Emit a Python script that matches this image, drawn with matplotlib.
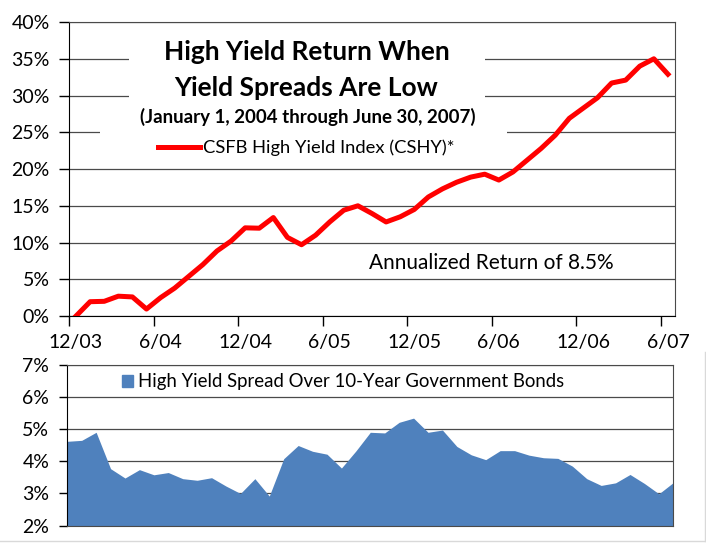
import numpy as np
import matplotlib
matplotlib.use("Agg")
import matplotlib.pyplot as plt
from matplotlib.patches import Rectangle, Patch
from matplotlib.lines import Line2D

plt.rcParams['font.family'] = ['Lato', 'DejaVu Sans']

# monthly data, 12/03 .. 6/07 (43 months)
tick_labels = ['12/03', '6/04', '12/04', '6/05', '12/05', '6/06', '12/06', '6/07']
cshy_return = [0.0, 1.95, 2.0, 2.7, 2.6, 0.95, 2.5, 3.8, 5.4, 7.0, 8.85, 10.2,
               12.0, 11.95, 13.4, 10.7, 9.7, 11.0, 12.8, 14.4, 15.0, 13.95, 12.8,
               13.5, 14.5, 16.2, 17.3, 18.2, 18.9, 19.3, 18.5, 19.6, 21.2, 22.8,
               24.6, 26.9, 28.3, 29.7, 31.7, 32.1, 34.0, 35.0, 32.9]
hy_spread = [4.62, 4.65, 4.90, 3.77, 3.48, 3.74, 3.58, 3.65, 3.46, 3.41, 3.49,
             3.23, 3.00, 3.46, 2.92, 4.08, 4.49, 4.31, 4.22, 3.79, 4.32, 4.90,
             4.88, 5.21, 5.34, 4.90, 4.97, 4.46, 4.20, 4.05, 4.33, 4.33, 4.19,
             4.11, 4.09, 3.85, 3.46, 3.25, 3.33, 3.59, 3.31, 2.99, 3.34]

n = len(cshy_return)
grid_col = '#4a4a4a'
tick_fs = 14

fig = plt.figure(figsize=(7.06, 5.43), dpi=100)

# ---- upper chart: cumulative return (categories drawn in the middle of each month)
ax1 = fig.add_axes([0.0977, 0.418, 0.8584, 0.5414])
x_line = np.arange(n) + 0.5
ax1.plot(x_line, cshy_return, color='#ff0000', lw=3.6, zorder=3,
         solid_joinstyle='round', label='CSFB High Yield Index (CSHY)*')
ax1.set_xlim(0, n)
ax1.set_ylim(0, 40)
ax1.set_yticks(np.arange(0, 41, 5))
ax1.set_yticklabels([f'{v}%' for v in range(0, 41, 5)])
# tick marks on month boundaries, labels centred on the month
ax1.set_xticks(np.arange(0, n, 6))
ax1.set_xticklabels([])
ax1.set_xticks(np.arange(0, n, 6) + 0.5, minor=True)
ax1.set_xticklabels(tick_labels, minor=True)
ax1.tick_params(axis='x', which='minor', length=0, labelsize=tick_fs, pad=13)
ax1.set_axisbelow(True)
ax1.yaxis.grid(True, color=grid_col, lw=0.9)
for s in ax1.spines.values():
    s.set_color(grid_col)
ax1.spines['left'].set_color('black')
ax1.spines['bottom'].set_color('black')
ax1.tick_params(which='major', direction='out', length=7, width=1,
                labelsize=tick_fs, pad=7)

# white boxes behind title / legend (hide gridlines)
ax1.add_patch(Rectangle((0.099, 0.718), 0.587, 0.255, transform=ax1.transAxes,
                        facecolor='white', edgecolor='none', zorder=1))
ax1.add_patch(Rectangle((0.051, 0.524), 0.672, 0.194, transform=ax1.transAxes,
                        facecolor='white', edgecolor='none', zorder=1))

ax1.text(0.392, 0.898, 'High Yield Return When', transform=ax1.transAxes,
         ha='center', va='center', fontsize=19, fontweight='bold', zorder=4)
ax1.text(0.392, 0.776, 'Yield Spreads Are Low', transform=ax1.transAxes,
         ha='center', va='center', fontsize=19, fontweight='bold', zorder=4)
ax1.text(0.3935, 0.677, '(January 1, 2004 through June 30, 2007)',
         transform=ax1.transAxes, ha='center', va='center', fontsize=13.5,
         fontweight='bold', zorder=4)
ax1.text(0.697, 0.180, 'Annualized Return of 8.5%', transform=ax1.transAxes,
         ha='center', va='center', fontsize=15, zorder=4)
leg1 = ax1.legend(loc='center left', bbox_to_anchor=(0.147, 0.571), frameon=False,
                  borderpad=0, borderaxespad=0, handlelength=2.3,
                  handletextpad=0.15, fontsize=13.2)
leg1.set_zorder(4)

# ---- lower chart: high yield spread
ax2 = fig.add_axes([0.0953, 0.0319, 0.8584, 0.2965])
x_area = np.arange(n)
ax2.fill_between(x_area, hy_spread, 2, color='#4f81bd', lw=0, zorder=2)
ax2.set_xlim(0, n - 1)
ax2.set_ylim(2, 7)
ax2.set_yticks(range(2, 8))
ax2.set_yticklabels([f'{v}%' for v in range(2, 8)])
ax2.set_axisbelow(True)
ax2.yaxis.grid(True, color=grid_col, lw=0.9)
for s in ax2.spines.values():
    s.set_color(grid_col)
ax2.spines['left'].set_color('black')
ax2.tick_params(axis='x', bottom=False, labelbottom=False)
ax2.tick_params(axis='y', direction='out', length=6, width=1, labelsize=tick_fs, pad=7)
ax2.legend(handles=[Patch(color='#4f81bd',
                          label='High Yield Spread Over 10-Year Government Bonds')],
           loc='center left', bbox_to_anchor=(0.0898, 0.894), frameon=False,
           borderpad=0, borderaxespad=0, handlelength=0.6, handleheight=0.6,
           handletextpad=0.3, fontsize=13.4)

# faint frame around lower chart
fig.add_artist(Line2D([0.9986, 0.9986], [0.003, 0.352], color='#d9d9d9', lw=1))
fig.add_artist(Line2D([0, 0.9986], [0.003, 0.003], color='#d9d9d9', lw=1))

fig.savefig('out.png', dpi=100)
